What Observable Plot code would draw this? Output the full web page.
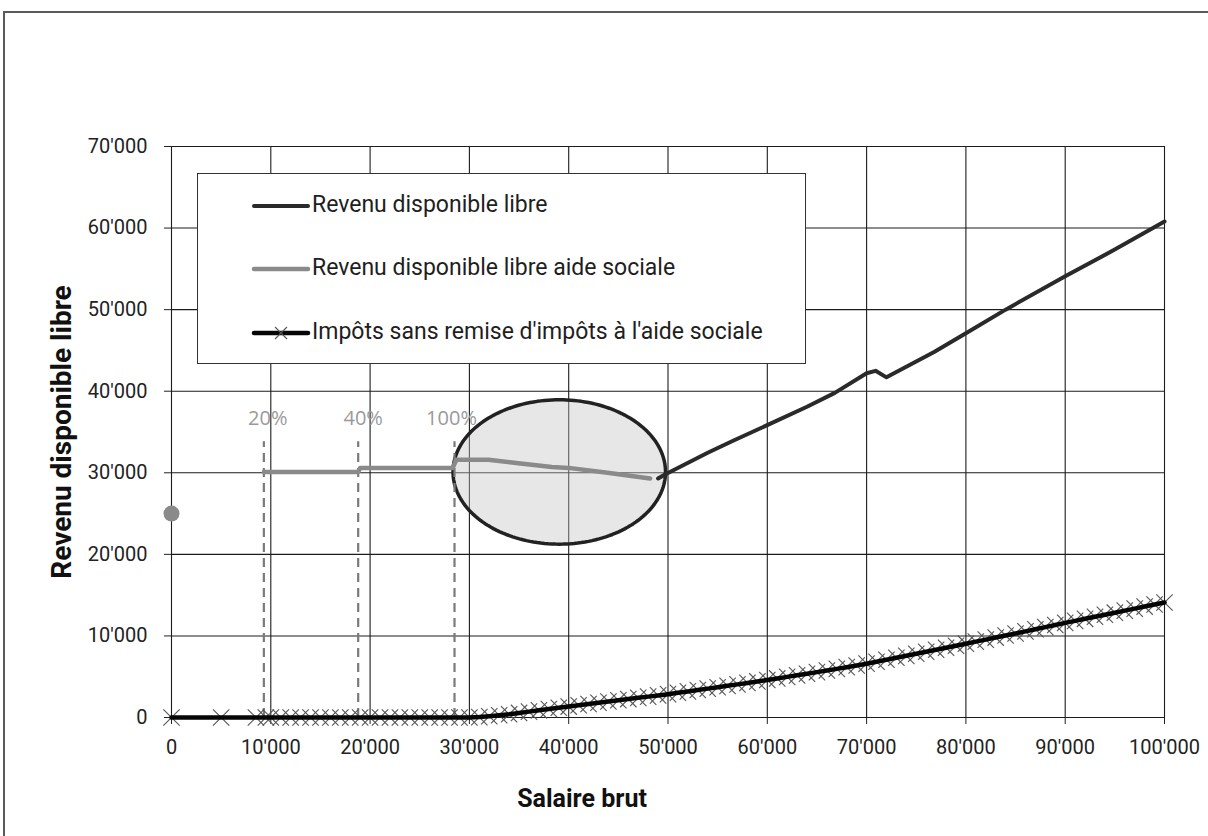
<!DOCTYPE html>
<html>
<head>
<meta charset="utf-8">
<script src="https://cdn.jsdelivr.net/npm/d3@7"></script>
<script src="https://cdn.jsdelivr.net/npm/@observablehq/plot@0.6"></script>
<style>
  html, body { margin: 0; padding: 0; background: #fff; overflow: hidden; }
  #wrap { position: relative; width: 1208px; height: 836px; overflow: hidden; }
  #frame { position: absolute; left: 3px; top: 11px; width: 1400px; height: 1000px;
           border-top: 2px solid #5a5a5a; border-left: 2px solid #5a5a5a; pointer-events: none; }
  #legend { position: absolute; left: 197px; top: 173px; width: 607px; height: 189px;
            border: 1px solid #333; background: #fff; }
  .entry { position: absolute; left: 0; height: 30px; width: 600px; }
  .entry svg { position: absolute; left: 0; top: 0; }
  .entry span { position: absolute; left: 114px; top: 0; line-height: 28px;
                font-family: Roboto, sans-serif; font-size: 23px; color: #1e1e1e; white-space: nowrap; }
</style>
</head>
<body>
<div id="wrap">
  <div id="chart"></div>
  <div id="legend"></div>
  <div id="frame"></div>
</div>
<script>
// Axis ticks
const xTicks = [0, 10000, 20000, 30000, 40000, 50000, 60000, 70000, 80000, 90000, 100000];
const yTicks = [0, 10000, 20000, 30000, 40000, 50000, 60000, 70000];

// Revenu disponible libre (without social assistance)
const revSalary = [49000, 49700, 54000, 56500, 60100, 64000, 66800, 70000, 70900, 72000, 76800, 80000, 84000, 90000, 94900, 100000];
const revValue  = [29300, 29800, 32450, 33900, 35900, 38100, 39800, 42200, 42500, 41700, 44800, 47100, 50000, 54100, 57300, 60800];

// Revenu disponible libre with social assistance
const aideSalary = [9300, 18800, 19000, 28300, 28700, 31900, 34700, 38300, 40000, 43900, 48200];
const aideValue  = [30100, 30100, 30600, 30600, 31600, 31600, 31200, 30700, 30600, 30000, 29300];

// Taxes without tax remission under social assistance
const taxSalary = [0, 5000, 8500, 9500,
  10000, 11000, 12000, 13000, 14000, 15000, 16000, 17000, 18000, 19000,
  20000, 21000, 22000, 23000, 24000, 25000, 26000, 27000, 28000, 29000,
  30000, 31000, 32000, 33000, 34000, 35000, 36000, 37000, 38000, 39000,
  40000, 41000, 42000, 43000, 44000, 45000, 46000, 47000, 48000, 49000,
  50000, 51000, 52000, 53000, 54000, 55000, 56000, 57000, 58000, 59000,
  60000, 61000, 62000, 63000, 64000, 65000, 66000, 67000, 68000, 69000,
  70000, 71000, 72000, 73000, 74000, 75000, 76000, 77000, 78000, 79000,
  80000, 81000, 82000, 83000, 84000, 85000, 86000, 87000, 88000, 89000,
  90000, 91000, 92000, 93000, 94000, 95000, 96000, 97000, 98000, 99000,
  100000];
const taxValue = [0, 0, 0, 0,
  0, 0, 0, 0, 0, 0, 0, 0, 0, 0,
  0, 0, 0, 0, 0, 0, 0, 0, 0, 0,
  0, 50, 150, 270, 400, 560, 720, 880, 1040, 1190,
  1340, 1500, 1660, 1810, 1960, 2110, 2260, 2410, 2560, 2710,
  2860, 3030, 3200, 3370, 3540, 3710, 3880, 4060, 4240, 4420,
  4600, 4790, 4980, 5170, 5360, 5560, 5760, 5960, 6170, 6380,
  6600, 6840, 7080, 7320, 7560, 7810, 8060, 8300, 8550, 8800,
  9050, 9300, 9550, 9800, 10050, 10300, 10560, 10820, 11080, 11340,
  11600, 11850, 12100, 12350, 12600, 12850, 13100, 13350, 13600, 13850,
  14100];

// Social assistance level at zero salary
const baseSalary = [0];
const baseValue = [25000];

// Thresholds of the income allowance
const thresholdSalary = [9300, 18800, 28500];
const thresholdTop = [33800, 33800, 33800];
const thresholdLabel = ["20%", "40%", "100%"];
const thresholdLabelX = [9700, 19300, 28200];
const thresholdLabelY = [36700, 36700, 36700];

// Highlighted zone (centre and half-axes in data units)
const zoneCenter = [39050, 30100];
const zoneRadius = [10700, 8850];

const legendLabels = [
  "Revenu disponible libre",
  "Revenu disponible libre aide sociale",
  "Impôts sans remise d'impôts à l'aide sociale"
];

const zip = (xs, ys) => xs.map((x, i) => ({x, y: ys[i]}));
const rev = zip(revSalary, revValue);
const aide = zip(aideSalary, aideValue);
const tax = zip(taxSalary, taxValue);
const base = zip(baseSalary, baseValue);
const thresholds = thresholdSalary.map((x, i) => ({x, top: thresholdTop[i]}));
const labels = thresholdLabel.map((t, i) => ({t, x: thresholdLabelX[i], y: thresholdLabelY[i]}));
const zone = d3.range(0, 361, 2).map(a => ({
  x: zoneCenter[0] + zoneRadius[0] * Math.cos(a * Math.PI / 180),
  y: zoneCenter[1] + zoneRadius[1] * Math.sin(a * Math.PI / 180)
}));

const fmt = d => d3.format(",")(d).replace(/,/g, "'");

const chart = Plot.plot({
  width: 1208,
  height: 836,
  marginLeft: 171,
  marginRight: 44,
  marginTop: 146,
  marginBottom: 119,
  style: {fontFamily: "Roboto, sans-serif", fontSize: "20px", color: "#222", background: "transparent", overflow: "visible", maxWidth: "none"},
  x: {domain: [0, 100000], ticks: xTicks, tickFormat: fmt, tickSize: 7, tickPadding: 15, label: null},
  y: {domain: [0, 70000], ticks: yTicks, tickFormat: fmt, tickSize: 7, tickPadding: 17, label: null},
  marks: [
    Plot.ruleX(xTicks, {stroke: "#1c1c1c", strokeWidth: 1.1}),
    Plot.ruleY(yTicks, {stroke: "#1c1c1c", strokeWidth: 1.1}),
    Plot.line(zone, {x: "x", y: "y", fill: "#c4c4c4", fillOpacity: 0.4, stroke: "#222", strokeWidth: 3.5}),
    Plot.ruleX(thresholds, {x: "x", y1: 0, y2: "top", stroke: "#7a7a7a", strokeWidth: 2.2, strokeDasharray: "9,6"}),
    Plot.text(labels, {x: "x", y: "y", text: "t", fill: "#9a9a9a", fontSize: 20, fontFamily: "'Open Sans', sans-serif"}),
    Plot.line(aide, {x: "x", y: "y", stroke: "#8a8a8a", strokeWidth: 4.5}),
    Plot.line(rev, {x: "x", y: "y", stroke: "#2a2a2a", strokeWidth: 4}),
    Plot.dot(tax, {x: "x", y: "y", symbol: "times", r: 7.5, stroke: "#555", strokeWidth: 1.1}),
    Plot.line(tax, {x: "x", y: "y", stroke: "#050505", strokeWidth: 4.5}),
    Plot.dot(base, {x: "x", y: "y", r: 8, fill: "#8a8a8a", stroke: "none"}),
    Plot.text(["Revenu disponible libre"], {frameAnchor: "left", dx: -109, rotate: -90, text: d => d,
      textAnchor: "middle", lineAnchor: "middle",
      fontWeight: "bold", fontSize: 28, fontFamily: "Roboto, sans-serif", fill: "#111"}),
    Plot.text(["Salaire brut"], {frameAnchor: "bottom", dx: -86, dy: 81, text: d => d,
      textAnchor: "middle", lineAnchor: "middle",
      fontWeight: "bold", fontSize: 25, fontFamily: "Roboto, sans-serif", fill: "#111"})
  ]
});
document.getElementById("chart").appendChild(chart);

// Tick labels: larger font than the library default
const tickTexts = new Set([...xTicks, ...yTicks].map(fmt));
d3.select(chart).selectAll("text")
  .filter(function () { return tickTexts.has(this.textContent); })
  .style("font-size", "20px")
  .style("font-family", "Roboto, sans-serif")
  .style("fill", "#222");

// Legend inside the plot area
const legendRows = [
  {label: legendLabels[0], stroke: "#2a2a2a", width: 4, marker: false},
  {label: legendLabels[1], stroke: "#8a8a8a", width: 4.5, marker: false},
  {label: legendLabels[2], stroke: "#050505", width: 4.5, marker: true}
];
const rowTops = [17, 80, 144];
const legend = d3.select("#legend");
legendRows.forEach((row, i) => {
  const e = legend.append("div").attr("class", "entry").style("top", rowTops[i] + "px");
  const s = e.append("svg").attr("width", 114).attr("height", 30);
  s.append("line").attr("x1", 56).attr("x2", 110).attr("y1", 15).attr("y2", 15)
    .attr("stroke", row.stroke).attr("stroke-width", row.width).attr("stroke-linecap", "round");
  if (row.marker) {
    s.append("path").attr("d", "M77,9L89,21M77,21L89,9").attr("stroke", "#555").attr("stroke-width", 1.1);
  }
  e.append("span").text(row.label);
});
</script>
</body>
</html>
